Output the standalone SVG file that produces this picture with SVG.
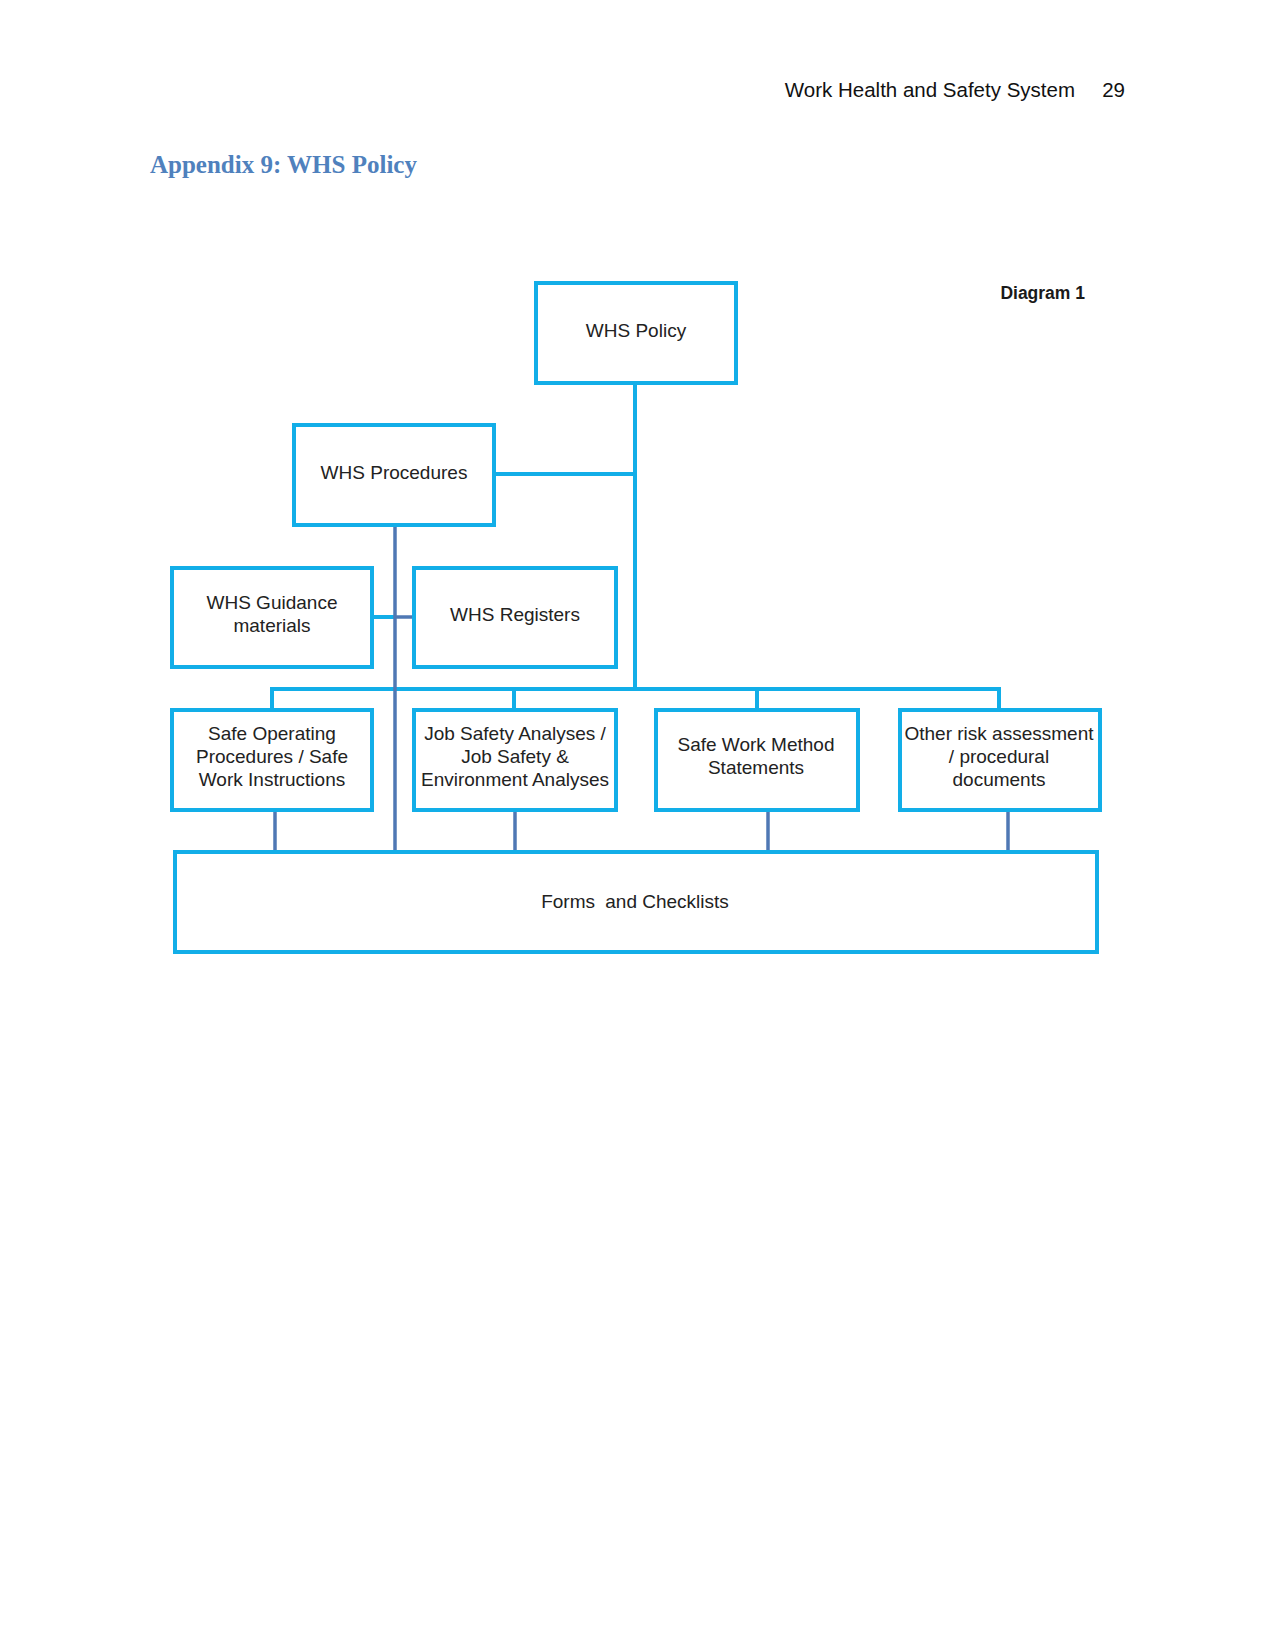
<svg xmlns="http://www.w3.org/2000/svg" width="1275" height="1650" viewBox="0 0 1275 1650">
<style>
.box{fill:#ffffff;stroke:#12aee8;stroke-width:4}
.lc{fill:none;stroke:#12aee8;stroke-width:4}
.dc{fill:none;stroke:#4f78b4;stroke-width:3.5}
.t{font-family:"Liberation Sans",Arial,sans-serif;font-size:19px;fill:#222222;text-anchor:middle}
</style>
<rect width="1275" height="1650" fill="#ffffff"/>
<text x="1075" y="97" font-family="Liberation Sans,Arial,sans-serif" font-size="20.5" fill="#111" text-anchor="end">Work Health and Safety System</text>
<text x="1125" y="97" font-family="Liberation Sans,Arial,sans-serif" font-size="20.5" fill="#111" text-anchor="end">29</text>
<text x="150" y="173" font-family="Liberation Serif,Times New Roman,serif" font-size="25" font-weight="bold" fill="#4f81bd">Appendix 9: WHS Policy</text>
<text x="1085" y="299" font-family="Liberation Sans,Arial,sans-serif" font-size="17.5" font-weight="bold" fill="#1a1a1a" text-anchor="end">Diagram 1</text>
<g id="connectors">
<path class="lc" d="M635 383 V689"/>
<path class="lc" d="M494 474 H635"/>
<path class="lc" d="M272 709 V689 H999 V709"/>
<path class="lc" d="M514 689 V709"/>
<path class="lc" d="M757 689 V709"/>
<path class="lc" d="M372 617 H395"/>
<path class="dc" d="M395 617 H413"/>
<path class="dc" d="M395 525 V852"/>
<path class="dc" d="M275 810 V852"/>
<path class="dc" d="M515 810 V852"/>
<path class="dc" d="M768 810 V852"/>
<path class="dc" d="M1008 810 V852"/>
</g>
<g id="policy"><rect class="box" x="536" y="283" width="200" height="100"/><text class="t" x="636" y="337">WHS Policy</text></g>
<g id="procedures"><rect class="box" x="294" y="425" width="200" height="100"/><text class="t" x="394" y="479">WHS Procedures</text></g>
<g id="guidance"><rect class="box" x="172" y="568" width="200" height="99"/><text class="t" x="272" y="609">WHS Guidance</text><text class="t" x="272" y="632">materials</text></g>
<g id="registers"><rect class="box" x="414" y="568" width="202" height="99"/><text class="t" x="515" y="621">WHS Registers</text></g>
<g id="sop"><rect class="box" x="172" y="710" width="200" height="100"/><text class="t" x="272" y="740">Safe Operating</text><text class="t" x="272" y="763">Procedures / Safe</text><text class="t" x="272" y="786">Work Instructions</text></g>
<g id="jsa"><rect class="box" x="414" y="710" width="202" height="100"/><text class="t" x="515" y="740">Job Safety Analyses /</text><text class="t" x="515" y="763">Job Safety &amp;</text><text class="t" x="515" y="786">Environment Analyses</text></g>
<g id="swms"><rect class="box" x="656" y="710" width="202" height="100"/><text class="t" x="756" y="751">Safe Work Method</text><text class="t" x="756" y="774">Statements</text></g>
<g id="other"><rect class="box" x="900" y="710" width="200" height="100"/><text class="t" x="999" y="740">Other risk assessment</text><text class="t" x="999" y="763">/ procedural</text><text class="t" x="999" y="786">documents</text></g>
<g id="forms"><rect class="box" x="175" y="852" width="922" height="100"/><text class="t" x="635" y="908">Forms <tspan dx="5">and Checklists</tspan></text></g>
</svg>
